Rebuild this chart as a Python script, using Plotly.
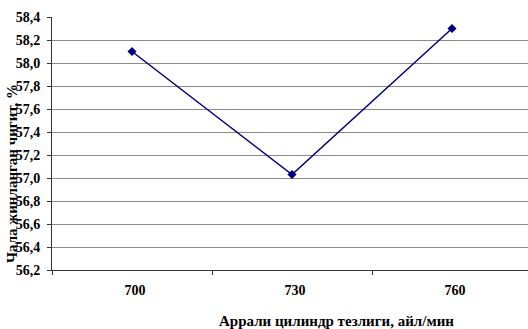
import plotly.graph_objects as go

# Cylinder speed (rpm) vs. share of incompletely ginned seed (%)
speeds = ["700", "730", "760"]
seed_share = [58.10, 57.03, 58.30]

x_title = "Аррали цилиндр тезлиги, айл/мин"
y_title = "Чала жинланган чигит, %"

serif = "Times New Roman, Liberation Serif, serif"
navy = "#00007f"

fig = go.Figure()
fig.add_trace(go.Scatter(
    x=speeds, y=seed_share,
    mode="lines+markers",
    line=dict(color=navy, width=1.5),
    marker=dict(symbol="diamond", size=7, color=navy),
    showlegend=False,
    hoverinfo="skip",
))

fig.update_layout(
    width=528, height=329,
    margin=dict(l=52, r=0, t=17, b=59),
    paper_bgcolor="white", plot_bgcolor="white",
    separators=", ",
    font=dict(family=serif, color="black"),
)

fig.update_xaxes(
    type="category",
    range=[-0.5, 2.475],
    tickson="boundaries",
    ticks="outside", ticklen=4, tickcolor="#333",
    showline=True, linecolor="#333", linewidth=1,
    showgrid=False,
    ticklabelstandoff=7, ticklabelshift=3,
    tickfont=dict(family=serif, size=14, weight="bold"),
)

fig.update_yaxes(
    range=[56.2, 58.4],
    tick0=56.2, dtick=0.2,
    tickformat=".1f",
    ticks="outside", ticklen=4, tickcolor="#333",
    showline=True, linecolor="#333", linewidth=1,
    showgrid=True, gridcolor="#8a8a8a", gridwidth=1,
    zeroline=False,
    ticklabelstandoff=4,
    tickfont=dict(family=serif, size=14, weight="bold"),
)

# Axis titles placed as annotations (pixel offsets from the plot area)
fig.add_annotation(
    text=x_title, xref="paper", yref="paper",
    x=(336 - 52) / 476, y=-51 / 253,
    xanchor="center", yanchor="middle",
    showarrow=False,
    font=dict(family=serif, size=15, weight="bold"),
)
fig.add_annotation(
    text=y_title, xref="paper", yref="paper",
    x=-40 / 476, y=(270 - 174) / 253,
    xanchor="center", yanchor="middle", textangle=-90,
    showarrow=False,
    font=dict(family=serif, size=15, weight="bold"),
)

fig.write_html("out.html")
